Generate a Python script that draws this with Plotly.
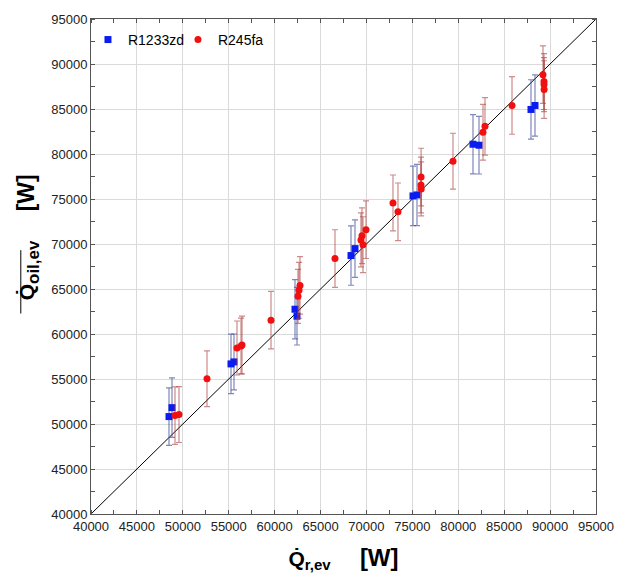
import plotly.graph_objects as go

# R1233zd (blue squares)
r1233_x = [48495, 48822, 55247, 55574, 62218, 62435, 68317, 68752, 75069, 75505, 81604, 82257, 87920, 88356]
r1233_y = [50824, 51818, 56678, 56899, 62752, 61979, 68715, 69488, 75342, 75452, 81085, 80975, 84950, 85392]
r1233_err = [3200, 3300, 3300, 3100, 3300, 3200, 3300, 3200, 3300, 3400, 3300, 3200, 3300, 3400]

# R245fa (red circles)
r245_x = [49148, 49584, 52634, 55901, 56337, 56446, 59604, 62544, 62653, 62762, 66574,
          69514, 69623, 69950, 69400, 72890, 73434, 75950, 75940, 75960, 79425, 82692, 82910,
          85851, 89227, 89336, 89340, 89350]
r245_y = [50934, 51045, 55021, 58446, 58665, 58776, 61537, 64187, 64850, 65402, 68384,
          70924, 69930, 71587, 70450, 74569, 73575, 77440, 76556, 76115, 79207, 82410, 83073,
          85392, 88815, 88042, 87711, 87159]
r245_err = [3200, 3100, 3100, 3000, 3100, 3200, 3200, 3000, 3100, 3200, 3200,
            3100, 3100, 3200, 3000, 3100, 3200, 3200, 3100, 3000, 3100, 3100, 3200,
            3200, 3200, 3100, 3000, 3200]

line_xy = [40000, 95000]
tick_vals = list(range(40000, 95001, 5000))
tick_text = [str(v) for v in tick_vals]

FONT = "Arial, Liberation Sans"

fig = go.Figure()
fig.add_trace(go.Scatter(x=line_xy, y=line_xy, mode="lines",
                         line=dict(color="black", width=1), showlegend=False, hoverinfo="skip"))
fig.add_trace(go.Scatter(
    x=r1233_x, y=r1233_y, mode="markers", name="R1233zd",
    marker=dict(symbol="square", size=7, color="#0a1cf0"),
    error_y=dict(type="data", array=r1233_err, visible=True,
                 color="rgba(60,70,150,0.65)", thickness=1.2, width=3)))
fig.add_trace(go.Scatter(
    x=r245_x, y=r245_y, mode="markers", name="R245fa",
    marker=dict(symbol="circle", size=7, color="#f01010"),
    error_y=dict(type="data", array=r245_err, visible=True,
                 color="rgba(170,60,60,0.6)", thickness=1.2, width=3)))

axis_common = dict(
    range=[40000, 95000], tickvals=tick_vals, ticktext=tick_text,
    showgrid=True, gridcolor="#dadada", gridwidth=1,
    showline=True, linecolor="#555555", linewidth=1, mirror="ticks",
    ticks="", zeroline=False,
    tickfont=dict(family=FONT, size=13, color="#222222"),
    minor=dict(dtick=2500, tick0=0, ticks="inside", ticklen=4, tickcolor="#555555", showgrid=False),
)

x_title = ("<b>Q̇<sub><span style='font-size:15px'>r,ev</span></sub>"
           "&nbsp;&nbsp;&nbsp;&nbsp;&nbsp;<span style='font-size:24px'>[W]</span></b>")
y_title = ("<b>" + "&nbsp;" * 10 + "Q̇<sub><span style='font-size:17px'>oil,ev</span></sub>"
           "&nbsp;&nbsp;&nbsp;&nbsp;&nbsp;<span style='font-size:23px'>[W]</span></b>")

fig.update_layout(
    width=628, height=579,
    margin=dict(l=91, r=32, t=16, b=65),
    paper_bgcolor="white", plot_bgcolor="white",
    xaxis=dict(**axis_common,
               title=dict(text=x_title, standoff=18,
                          font=dict(family=FONT, size=21, color="black"))),
    yaxis=dict(**axis_common,
               title=dict(text=y_title, standoff=10,
                          font=dict(family=FONT, size=21, color="black"))),
    legend=dict(orientation="h", x=-0.006, y=0.99, xanchor="left", yanchor="top",
                entrywidth=45, entrywidthmode="pixels",
                bgcolor="rgba(0,0,0,0)", font=dict(family=FONT, size=14, color="black")),
    showlegend=True,
)
fig.add_shape(type="line", xref="paper", yref="paper", x0=-0.139, x1=-0.139, y0=0.405, y1=0.533,
              line=dict(color="black", width=1))

fig.write_html("out.html")
